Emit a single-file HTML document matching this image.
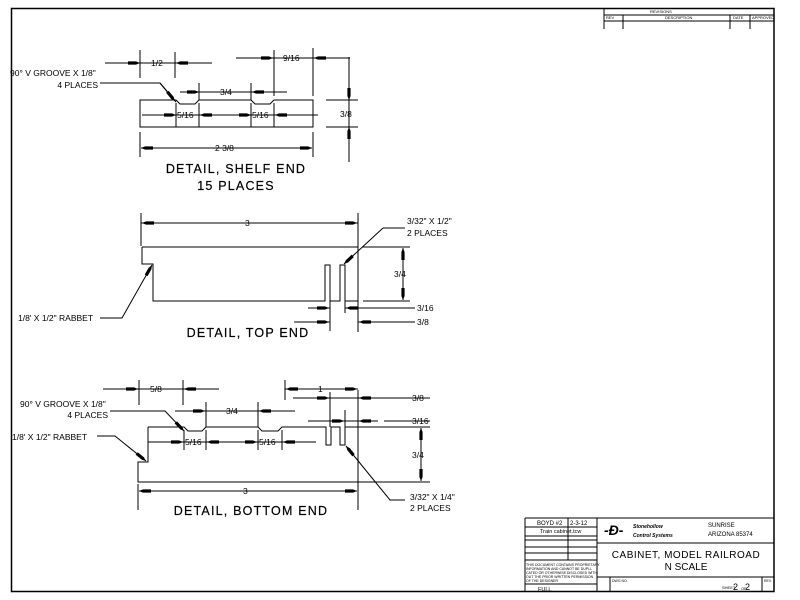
<!DOCTYPE html>
<html><head><meta charset="utf-8"><style>
html,body{margin:0;padding:0;background:#fff;}
svg{display:block;}
text{font-family:"Liberation Sans",sans-serif;fill:#000;}
.d{font-size:8.5px;}
.t{font-size:12.5px;letter-spacing:1.2px;stroke:#000;stroke-width:0.2px;}
.s{font-size:4px;}
</style></head><body>
<svg width="800" height="600" viewBox="0 0 800 600" xmlns="http://www.w3.org/2000/svg">
<defs>
<marker id="a" viewBox="0 0 12 4" refX="12" refY="2" markerWidth="12" markerHeight="4" markerUnits="userSpaceOnUse" orient="auto"><path d="M0,0.4 H8 L12,2 L8,3.6 H0z" fill="#000"/></marker>
</defs>
<g stroke="#000" fill="none" stroke-width="1">
<rect x="11.5" y="8.5" width="762.5" height="583" stroke-width="1.5"/>
<path d="M604,15H774M604,21H774M604,8V29M623,15V29M730,15V29M750,15V29"/>
<path d="M525,518H774V592M525,518V592M597,518V592M525,527H597M525,536H597M525,540H597M525,547H597M525,553H597M525,560H597M525,584H597M568,518V560M597,543H774M597,577H774M610,577V592M762,577V592"/>

<!-- SHELF END -->
<path d="M140,100H176L180,104H195L199,100H251L255,104H270L274,100H313V127H140Z"/>
<path d="M176,103V127M199,103V127M251,103V127M274,103V127"/>
<path d="M140,50V78M175,52V78M105,63H212"/>
<path d="M118,63H140" marker-end="url(#a)"/><path d="M198,63H176" marker-end="url(#a)"/>
<path d="M274,50V96M313,48V96M236,58H350"/>
<path d="M255,58H273" marker-end="url(#a)"/><path d="M332,58H314" marker-end="url(#a)"/>
<path d="M199,83V100M251,83V100M180,92H287"/>
<path d="M182,92H199" marker-end="url(#a)"/><path d="M269,92H252" marker-end="url(#a)"/>
<path d="M142,115H318"/>
<path d="M156,115H176" marker-end="url(#a)"/><path d="M218,115H200" marker-end="url(#a)"/>
<path d="M232,115H251" marker-end="url(#a)"/><path d="M294,115H275" marker-end="url(#a)"/>
<path d="M140,132V157M313,132V157M141,148H312"/>
<path d="M158,148H141" marker-end="url(#a)"/><path d="M295,148H312" marker-end="url(#a)"/>
<path d="M326,100H358M326,127H358M349,57V162"/>
<path d="M349,82V100" marker-end="url(#a)"/><path d="M349,145V127" marker-end="url(#a)"/>
<path d="M100,83H160L176,102"/>
<path d="M160,83L175,101" marker-end="url(#a)"/>

<!-- TOP END -->
<path d="M142,247H358M142,247V264H153V301H325V265H330V301H340V265H345V301H358M358,213V332M141,213V246"/>
<path d="M141,223H358"/>
<path d="M158,223H142" marker-end="url(#a)"/><path d="M341,223H357" marker-end="url(#a)"/>
<path d="M362,247H410M363,301H410M403,249V300"/>
<path d="M403,268V248" marker-end="url(#a)"/><path d="M403,282V300" marker-end="url(#a)"/>
<path d="M330,301V313M345,301V313M308,308H330M345,308H415"/>
<path d="M312,308H329" marker-end="url(#a)"/><path d="M365,308H346" marker-end="url(#a)"/>
<path d="M330,313V331M294,322H330M358,322H415"/>
<path d="M312,322H329" marker-end="url(#a)"/><path d="M377,322H359" marker-end="url(#a)"/>
<path d="M383,228L344,264" marker-end="url(#a)"/><path d="M383,228H405"/>
<path d="M100,318H122L152,265" marker-end="url(#a)"/>

<!-- BOTTOM END -->
<path d="M148,427H184L188,431H202L206,427H258L262,431H278L282,427H326V445H331V427H340V445H345V427H430"/>
<path d="M148,427V462H138V482H430M184,430V450M206,430V450M258,430V450M282,430V450"/>
<path d="M358,390V510M138,484V510"/>
<path d="M139,380V405M183,380V405M103,389H219"/>
<path d="M120,389H138" marker-end="url(#a)"/><path d="M202,389H184" marker-end="url(#a)"/>
<path d="M285,380V400M285,389H358"/>
<path d="M303,389H286" marker-end="url(#a)"/><path d="M340,389H357" marker-end="url(#a)"/>
<path d="M330,392V427M293,398H430"/>
<path d="M312,398H329" marker-end="url(#a)"/><path d="M378,398H359" marker-end="url(#a)"/>
<path d="M345,410V427M308,421H378M384,421H430"/>
<path d="M327,421H344" marker-end="url(#a)"/><path d="M377,421H359" marker-end="url(#a)"/>
<path d="M206,402V427M258,402V427M175,411H295"/>
<path d="M189,411H205" marker-end="url(#a)"/><path d="M275,411H259" marker-end="url(#a)"/>
<path d="M148,442H316"/>
<path d="M165,442H183" marker-end="url(#a)"/><path d="M225,442H207" marker-end="url(#a)"/>
<path d="M240,442H257" marker-end="url(#a)"/><path d="M300,442H283" marker-end="url(#a)"/>
<path d="M139,491H357"/>
<path d="M155,491H139" marker-end="url(#a)"/><path d="M340,491H357" marker-end="url(#a)"/>
<path d="M421,429V481"/>
<path d="M421,447V428" marker-end="url(#a)"/><path d="M421,463V481" marker-end="url(#a)"/>
<path d="M110,411H165L184,431" marker-end="url(#a)"/>
<path d="M97,436H115L146,461" marker-end="url(#a)"/>
<path d="M405,500H390L346,446" marker-end="url(#a)"/>
</g>

<text class="d" x="151" y="66">1/2</text>
<text class="d" x="283" y="61">9/16</text>
<text class="d" x="220" y="95">3/4</text>
<text class="d" x="177" y="118">5/16</text>
<text class="d" x="252" y="118">5/16</text>
<text class="d" x="215" y="151">2 3/8</text>
<text class="d" x="340" y="117">3/8</text>
<text class="d" x="10" y="76" font-size="7.5">90° V GROOVE X 1/8"</text>
<text class="d" x="98" y="88" font-size="7.5" text-anchor="end">4 PLACES</text>
<text class="t" x="236" y="173" text-anchor="middle">DETAIL, SHELF END</text>
<text class="t" x="236" y="190" text-anchor="middle">15 PLACES</text>

<text class="d" x="245" y="226">3</text>
<text class="d" x="407" y="224" font-size="7.5">3/32" X 1/2"</text>
<text class="d" x="407" y="236" font-size="7.5">2 PLACES</text>
<text class="d" x="394" y="277">3/4</text>
<text class="d" x="417" y="311">3/16</text>
<text class="d" x="417" y="325">3/8</text>
<text class="d" x="18" y="321" font-size="7.5">1/8' X 1/2" RABBET</text>
<text class="t" x="248" y="337" text-anchor="middle">DETAIL, TOP END</text>

<text class="d" x="150" y="392">5/8</text>
<text class="d" x="318" y="392">1</text>
<text class="d" x="412" y="401">3/8</text>
<text class="d" x="412" y="424">3/16</text>
<text class="d" x="226" y="414">3/4</text>
<text class="d" x="185" y="445">5/16</text>
<text class="d" x="259" y="445">5/16</text>
<text class="d" x="243" y="494">3</text>
<text class="d" x="412" y="458">3/4</text>
<text class="d" x="20" y="407" font-size="7.5">90° V GROOVE X 1/8"</text>
<text class="d" x="108" y="418" font-size="7.5" text-anchor="end">4 PLACES</text>
<text class="d" x="12" y="440" font-size="7.5">1/8' X 1/2" RABBET</text>
<text class="d" x="410" y="500" font-size="7.5">3/32" X 1/4"</text>
<text class="d" x="410" y="511" font-size="7.5">2 PLACES</text>
<text class="t" x="251" y="515" text-anchor="middle">DETAIL, BOTTOM END</text>

<text class="s" x="650" y="13">REVISIONS</text>
<text class="s" x="606" y="19">REV</text>
<text class="s" x="665" y="19">DESCRIPTION</text>
<text class="s" x="733" y="19">DATE</text>
<text class="s" x="752" y="19">APPROVED</text>
<text x="537" y="525" font-size="6">BOYD #2</text>
<text x="570" y="525" font-size="6">2-3-12</text>
<text x="540" y="533" font-size="5.5">Train cabinet.tcw</text>
<text x="538" y="591" font-size="5.5">FULL</text>
<text x="526" y="566" font-size="3.5">THIS DOCUMENT CONTAINS PROPRIETARY</text>
<text x="526" y="570" font-size="3.5">INFORMATION AND CANNOT BE DUPLI-</text>
<text x="526" y="574" font-size="3.5">CATED OR OTHERWISE DISCLOSED WITH-</text>
<text x="526" y="578" font-size="3.5">OUT THE PRIOR WRITTEN PERMISSION</text>
<text x="526" y="582" font-size="3.5">OF THE DESIGNER</text>
<text x="604" y="535" font-size="14" font-weight="bold" font-style="italic">-Ð-</text>
<text x="633" y="528" font-size="5" font-weight="bold" font-style="italic">Stonehollow</text>
<text x="633" y="537" font-size="5" font-weight="bold" font-style="italic">Control Systems</text>
<text x="708" y="527" font-size="6">SUNRISE</text>
<text x="708" y="536" font-size="6">ARIZONA 85374</text>
<text x="686" y="558" font-size="10" text-anchor="middle" letter-spacing="0.5">CABINET, MODEL RAILROAD</text>
<text x="686" y="570" font-size="10" text-anchor="middle">N SCALE</text>
<text x="612" y="582" font-size="3.5">DWG NO.</text>
<text x="722" y="589" font-size="4">SHEET</text>
<text x="733" y="590" font-size="9">2</text>
<text x="741" y="590" font-size="4">OF</text>
<text x="745" y="590" font-size="9">2</text>
<text x="764" y="582" font-size="3.5">REV.</text>
</svg>
</body></html>
